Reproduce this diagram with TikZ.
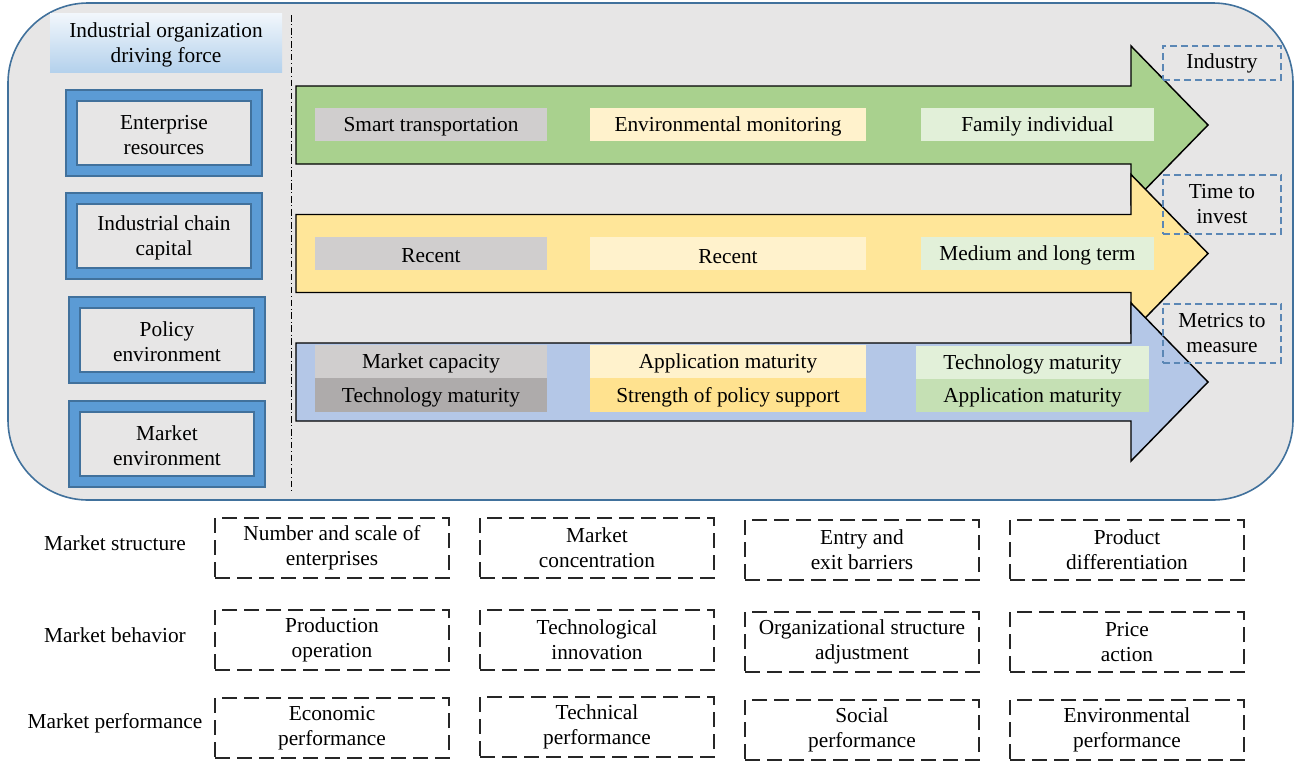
\documentclass[tikz,border=0pt]{standalone}
\usepackage{fontspec}
\setmainfont{Liberation Serif}
\definecolor{bgc}{HTML}{E7E6E6}
\definecolor{frameblue}{HTML}{41719C}
\definecolor{boxblue}{HTML}{5B9BD5}
\definecolor{arrgreen}{HTML}{A9D18E}
\definecolor{arryellow}{HTML}{FFE699}
\definecolor{arrblue}{HTML}{B4C7E7}
\definecolor{lgray}{HTML}{D0CECE}
\definecolor{dgray}{HTML}{AEABAB}
\definecolor{lyellow}{HTML}{FFF2CC}
\definecolor{myellow}{HTML}{FFE28F}
\definecolor{lgreen}{HTML}{E2F0D9}
\definecolor{mgreen}{HTML}{C5E0B4}
\definecolor{dashblue}{HTML}{5B87B5}
\definecolor{hdrtop}{HTML}{F2F7FC}
\definecolor{hdrbot}{HTML}{B4D1EC}
\tikzset{
  txt/.style={align=center, inner sep=0pt, yshift=-1.5pt},
  dbox/.style={draw=black!85, line width=1.6pt, dash pattern=on 11pt off 5.5pt,
    minimum width=175.5pt, minimum height=45pt, align=center, inner sep=0pt},
  bbox/.style={draw=dashblue, line width=0.9pt, dash pattern=on 5pt off 3pt,
    minimum width=88.5pt, align=center, inner sep=0pt},
  arrowshape/.style={draw=black, line width=1.1pt},
}
\newcommand\bigarrow[2]{%
  \filldraw[arrowshape, fill=#1] (296,{#2-39}) -- (1131,{#2-39}) -- (1131,{#2-79})
    -- (1208,#2) -- (1131,{#2+79}) -- (1131,{#2+39}) -- (296,{#2+39}) -- cycle;}
\newcommand\leftbox[4]{% x1 y1 name text
  \filldraw[fill=boxblue, draw=frameblue, line width=0.8pt] (#1,#2) rectangle ({#1+196},{#2+86});
  \filldraw[fill=bgc, draw=frameblue, line width=0.8pt] ({#1+11},{#2+11}) rectangle ({#1+185},{#2+75});
  \node[txt] (#3) at ({#1+98},{#2+43}) {#4};}
\begin{document}
\begin{tikzpicture}[x=0.75pt,y=-0.75pt, font=\fontsize{16}{18.75}\selectfont]
\useasboundingbox (0,0) rectangle (1297,765);
\fill[white] (0,0) rectangle (1297,765);
% main frame
\filldraw[fill=bgc, draw=frameblue, line width=1.2pt, rounded corners=60pt] (8,3) rectangle (1293,500);
% header
\shade[top color=hdrtop, bottom color=hdrbot] (50,13) rectangle (282,72);
\node[txt] (hdr) at (166,42.5) {Industrial organization\\driving force};
% separator
\draw[line width=0.7pt, dash pattern=on 5pt off 2pt on 0.7pt off 2pt] (291,15) -- (291,490);
% left boxes
\leftbox{66}{90}{er}{Enterprise\\resources}
\leftbox{66}{193}{icc}{Industrial chain\\capital}
\leftbox{69}{297}{pe}{Policy\\environment}
\leftbox{69}{401}{me}{Market\\environment}
% arrows
\bigarrow{arrgreen}{125}
\bigarrow{arryellow}{253.5}
\bigarrow{arrblue}{382}
% green row
\fill[lgray] (315,108) rectangle (547,141);
\node[txt] (g1) at (431,124.5) {Smart transportation};
\fill[lyellow] (590,108) rectangle (866,141);
\node[txt] (g2) at (728,124.5) {Environmental monitoring};
\fill[lgreen] (921,108) rectangle (1154,141);
\node[txt] (g3) at (1037.5,124.5) {Family individual};
% yellow row
\fill[lgray] (315,237) rectangle (547,270);
\node[txt] (y1) at (431,253.5) {Recent};
\fill[lyellow] (590,237) rectangle (866,270);
\node[txt] (y2) at (728,254.5) {Recent};
\fill[lgreen] (921,237) rectangle (1154,270);
\node[txt] (y3) at (1037.5,253.5) {Medium and long term};
% blue row
\fill[lgray] (315,345) rectangle (547,378);
\node[txt] (b1) at (431,361.5) {Market capacity};
\fill[dgray] (315,378) rectangle (547,412);
\node[txt] (b2) at (431,395) {Technology maturity};
\fill[lyellow] (590,345) rectangle (866,378);
\node[txt] (b3) at (728,361.5) {Application maturity};
\fill[myellow] (590,378) rectangle (866,412);
\node[txt] (b4) at (728,395) {Strength of policy support};
\fill[lgreen] (916,346) rectangle (1149,379);
\node[txt] (b5) at (1032.5,362.5) {Technology maturity};
\fill[mgreen] (916,379) rectangle (1149,412);
\node[txt] (b6) at (1032.5,395.5) {Application maturity};
% right dashed labels
\node[bbox, minimum height=25.5pt] (ind) at (1222,63) {Industry};
\node[bbox, minimum height=44.25pt] (tti) at (1222,204.5) {Time to\\invest};
\node[bbox, minimum height=44.25pt] (mtm) at (1222,333.5) {Metrics to\\measure};
% bottom rows
\node[txt] (ms) at (115,541) {Market structure};
\node[txt] (mb) at (115,633) {Market behavior};
\node[txt] (mp) at (115,721) {Market performance};
\node[dbox] (s1) at (332,548) {Number and scale of\\enterprises};
\node[dbox] (s2) at (597,548) {Market\\concentration};
\node[dbox] (s3) at (862,550) {Entry and\\exit barriers};
\node[dbox] (s4) at (1127,550) {Product\\differentiation};
\node[dbox] (r1) at (332,640) {Production\\operation};
\node[dbox] (r2) at (597,640) {Technological\\innovation};
\node[dbox] (r3) at (862,642) {Organizational structure\\adjustment};
\node[dbox] (r4) at (1127,642) {Price\\action};
\node[dbox] (p1) at (332,728) {Economic\\performance};
\node[dbox] (p2) at (597,727) {Technical\\performance};
\node[dbox] (p3) at (862,730) {Social\\performance};
\node[dbox] (p4) at (1127,730) {Environmental\\performance};
\end{tikzpicture}
\end{document}
